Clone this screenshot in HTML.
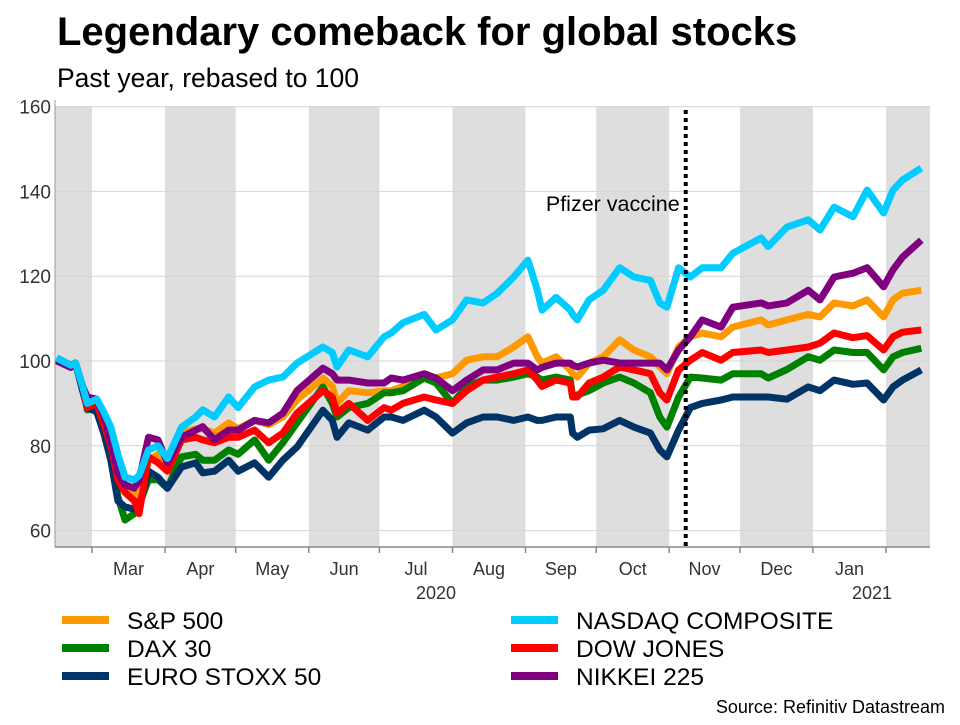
<!DOCTYPE html>
<html><head><meta charset="utf-8">
<style>
body{margin:0;background:#fff;width:960px;height:720px;overflow:hidden;font-family:"Liberation Sans",sans-serif;}
</style></head>
<body>
<svg id="c" width="960" height="720" xmlns="http://www.w3.org/2000/svg" font-family="Liberation Sans, sans-serif">
<text x="57" y="45" font-size="40" font-weight="bold" fill="#000">Legendary comeback for global stocks</text>
<text x="57" y="87" font-size="26.5" fill="#000">Past year, rebased to 100</text>
<g id="bands"></g><g id="grid"></g><g id="axes"></g><g id="lines"></g><g id="ann"></g><g id="legend"></g>
<text x="945" y="713" font-size="18" text-anchor="end" fill="#000">Source: Refinitiv Datastream</text>
</svg>
<script>
// days since 2020-03-01
const days=[-15,-9,-7,-4,-2,2,5,8,11,14,18,20,24,28,32,38,44,47,52,58,62,69,75,81,87,98,102,104,109,117,124,127,132,141,146,153,159,166,172,179,185,189,191,197,203,204,206,211,217,224,230,237,241,244,249,254,259,267,272,284,287,295,304,309,315,323,329,336,340,344,352];
const nasdaq=[100.7,99,99.5,94,90,91,88,84.4,78,72.6,72,73,79,80,77,84.4,86.8,88.5,86.8,91.5,89,93.9,95.5,96.2,99.5,103.3,102,98.6,102.6,101,105.7,106.6,109,111,107.3,109.7,114.4,113.7,116,119.8,123.8,116.7,112,115,112,111,109.7,114.4,116.7,122,119.8,119,113.7,112.7,122,119.8,122,122,125.4,129,127,131.6,133.3,130.9,136.3,134,140.3,134.9,140.3,142.7,145.5];
const sp500=[100.5,99,99.5,94,89.5,90,86,82,74,70,69,67,76.6,78,75,83,84,84,83,85.4,84,86,85,86.8,90.8,96,94,90,93,92.5,93,93,94,96,96,97,100.2,101,101,103.3,105.7,101,99.5,101,97.9,97,96.2,99.5,101,105,102.6,101,98.6,97,103.3,105.7,106.6,105.7,108,109.7,108.5,109.7,111,110.4,113.7,113,114.4,110.4,114.4,116,116.7];
const nikkei=[100,98.5,99.5,94,91.5,91,87,81,73.6,70.8,70,72,82,81.4,76,82,83.7,84.5,81.4,83.7,83.7,86,85.4,87.7,93,98.3,97,95.5,95.5,94.8,94.8,96,95.5,97,96,93,95.5,97.9,97.9,99.5,99.5,97.9,98.5,99.5,99.5,99,98.6,99.5,100.2,99.5,99.5,99.5,99.5,97.9,102.6,105.7,109.7,108,112.7,113.7,113,113.7,116.7,114.4,119.8,120.7,122,117.5,121.5,124.5,128.5];
const dow=[100.5,99,99.5,94,89,90,85,80,72,69,67,64,77.4,76,74,81.4,82,81.4,80.7,82,82,83.7,80.7,83,87.7,93,91.5,87.7,90,86,89,88.4,90,91.5,90.8,90,93,95.5,96.2,97,97.9,95.5,94,95.5,94.8,91.5,91.5,94.8,96.2,98.6,97.9,97,92.5,90.8,97.9,100.2,102,100.2,102,102.6,102,102.6,103.3,104.2,106.6,105.5,106,102.6,105.7,106.8,107.3];
const dax=[100.3,99,99.5,94,88.5,89,84,78,68,62.5,64,66,72,72,70,77.4,78,76.6,76.6,79,78,81.4,76.6,80.7,85.4,93.9,90,86.8,89,90,92.5,92.5,93,96,94.8,90,94,95.5,95.5,96.2,97,96.2,95.5,96.2,95.5,91.5,92,93,94.8,96.2,94.8,92.5,86.8,84.4,91.5,96.2,96,95.5,97,97,96,98,101,100.2,102.6,102,102,97.9,101,102,103];
const stoxx=[100.7,99,99.5,93,89,88,83,76.6,67,65.6,65,65.6,74,72.6,70,75,76,73.6,74,76.6,74,76,72.6,76.6,79.7,88.4,86,82,85.4,83.7,86.8,86.8,86,88.4,86.8,83,85.4,86.8,86.8,86,86.8,86,86,86.8,86.8,83,82,83.7,84,86,84.4,83,79,77.4,83.7,89,90,90.8,91.5,91.5,91.5,91,93.9,93,95.5,94.5,94.8,90.8,93.9,95.5,97.9];
const seriesNames=["S&P 500","NASDAQ COMPOSITE","DAX 30","DOW JONES","EURO STOXX 50","NIKKEI 225"];
const yTicks=[60,80,100,120,140,160];
const monthLabels=["Mar","Apr","May","Jun","Jul","Aug","Sep","Oct","Nov","Dec","Jan"];
const monthStarts=[0,31,61,92,122,153,184,214,245,275,306,337];
const vaccineDay=252;

const NS="http://www.w3.org/2000/svg";
const X0=55,X1=930,Y0=106,Y1=547;
const xs=d=>92+d*2.356;
const ys=v=>361-(v-100)*4.24;
function mk(tag,attrs,parent,text){const e=document.createElementNS(NS,tag);for(const k in attrs)e.setAttribute(k,attrs[k]);if(text!==undefined)e.textContent=text;parent.appendChild(e);return e;}
const bands=document.getElementById('bands'),grid=document.getElementById('grid'),axes=document.getElementById('axes'),lines=document.getElementById('lines'),ann=document.getElementById('ann'),legend=document.getElementById('legend');
const edges=[X0].concat(monthStarts.map(xs)).concat([X1]);
for(let i=0;i<edges.length-1;i++){
  if(i%2===0){
    const r=mk('rect',{x:edges[i],y:Y0,width:edges[i+1]-edges[i],height:Y1-Y0,fill:'#dedede'},bands);
    
    
  }
}
yTicks.forEach(t=>{
  const l=mk('line',{x1:X0,x2:X1,y1:ys(t),y2:ys(t),stroke:'#d4d4d4','stroke-width':1},grid);
  
  
  const tx=mk('text',{x:51,y:ys(t)+7,'font-size':19,'text-anchor':'end',fill:'#333'},axes,String(t));
  
  
});
mk('line',{x1:X0,x2:X0,y1:Y0-6,y2:Y1,stroke:'#999','stroke-width':1},axes);
mk('line',{x1:X0,x2:X1,y1:Y1,y2:Y1,stroke:'#888','stroke-width':1.5},axes);
monthStarts.forEach((d,i)=>{
  mk('line',{x1:xs(d),x2:xs(d),y1:Y1,y2:Y1+6,stroke:'#888','stroke-width':1.5},axes);
  if(i<monthLabels.length){
    const t=mk('text',{x:(xs(d)+xs(monthStarts[i+1]))/2,y:575,'font-size':18,'text-anchor':'middle',fill:'#333'},axes,monthLabels[i]);
    
    
  }
});
const y1=mk('text',{x:436,y:599,'font-size':18,'text-anchor':'middle',fill:'#333'},axes,'2020');


const y2=mk('text',{x:872,y:599,'font-size':18,'text-anchor':'middle',fill:'#333'},axes,'2021');



const series=[[sp500,'#ff9900','sp500'],[dax,'#008000','dax-30'],[stoxx,'#003366','euro-stoxx-50'],[dow,'#ff0000','dow-jones'],[nikkei,'#800080','nikkei-225'],[nasdaq,'#00ccff','nasdaq-composite']];
series.forEach(s=>{
  const p=mk('path',{d:s[0].map((v,i)=>(i?'L':'M')+xs(days[i]).toFixed(1)+','+ys(v).toFixed(1)).join(''),fill:'none',stroke:s[1],'stroke-width':7,'stroke-linejoin':'round','stroke-linecap':'butt'},lines);
  
  
});
const vl=mk('line',{x1:xs(vaccineDay),x2:xs(vaccineDay),y1:110,y2:Y1,stroke:'#000','stroke-width':4,'stroke-dasharray':'4 4'},ann);


const vt=mk('text',{x:xs(vaccineDay)-6,y:211,'font-size':21.5,'text-anchor':'end',fill:'#000'},ann,'Pfizer vaccine');



const legColors=['#ff9900','#00ccff','#008000','#ff0000','#003366','#800080'];
seriesNames.forEach((n,i)=>{
  const col=i%2,row=Math.floor(i/2);
  const sx=col?511:62,ty=620+row*28;
  const g=mk('g',{},legend);
  
  
  mk('line',{x1:sx,x2:sx+47,y1:ty,y2:ty,stroke:legColors[i],'stroke-width':8},g);
  mk('text',{x:sx+65,y:ty+9,'font-size':24.5,fill:'#000'},g,n);
});
</script>
</body></html>
